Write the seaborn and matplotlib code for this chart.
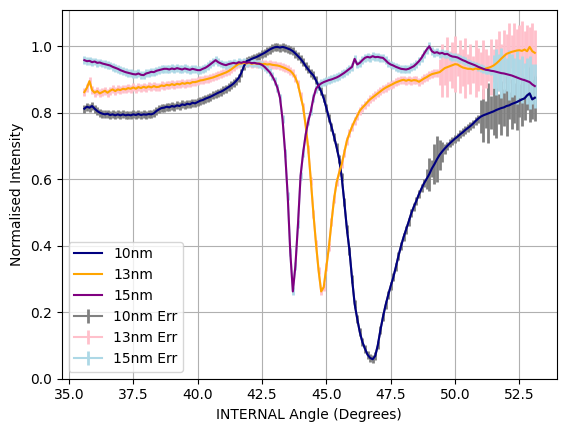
import numpy as np
import matplotlib
matplotlib.use("Agg")
import matplotlib.pyplot as plt
import seaborn as sns

# Angle grid (degrees), 0.1 deg sampling from 35.6 to 53.1
angle = np.round(np.linspace(35.6, 53.1, 176), 1)

r10 = [0.812, 0.818, 0.815, 0.820, 0.812, 0.805, 0.800, 0.797, 0.795, 0.797,
       0.793, 0.795, 0.792, 0.795, 0.792, 0.795, 0.792, 0.794, 0.792, 0.795,
       0.793, 0.796, 0.793, 0.795, 0.794, 0.796, 0.795, 0.798, 0.805, 0.810,
       0.814, 0.815, 0.818, 0.816, 0.820, 0.818, 0.822, 0.820, 0.825, 0.823,
       0.827, 0.825, 0.830, 0.828, 0.832, 0.836, 0.838, 0.842, 0.845, 0.848,
       0.852, 0.856, 0.860, 0.863, 0.867, 0.872, 0.877, 0.882, 0.888, 0.896,
       0.905, 0.920, 0.940, 0.955, 0.958, 0.962, 0.965, 0.968, 0.972, 0.976,
       0.980, 0.985, 0.990, 0.994, 0.997, 0.998, 0.996, 0.998, 0.996, 0.993,
       0.990, 0.985, 0.978, 0.970, 0.962, 0.952, 0.940, 0.930, 0.920, 0.912,
       0.897, 0.880, 0.864, 0.843, 0.815, 0.785, 0.758, 0.728, 0.696, 0.660,
       0.605, 0.530, 0.450, 0.385, 0.300, 0.225, 0.180, 0.140, 0.110, 0.090,
       0.072, 0.062, 0.058, 0.068, 0.100, 0.145, 0.185, 0.220, 0.250, 0.278,
       0.304, 0.335, 0.368, 0.398, 0.425, 0.448, 0.472, 0.497, 0.517, 0.535,
       0.555, 0.572, 0.588, 0.601, 0.615, 0.632, 0.645, 0.660, 0.673, 0.683,
       0.692, 0.700, 0.708, 0.715, 0.722, 0.728, 0.735, 0.741, 0.748, 0.754,
       0.760, 0.767, 0.775, 0.782, 0.788, 0.792, 0.795, 0.798, 0.801, 0.804,
       0.808, 0.811, 0.814, 0.816, 0.820, 0.822, 0.826, 0.829, 0.832, 0.836,
       0.840, 0.843, 0.852, 0.858, 0.840, 0.845]

r13 = [0.862, 0.875, 0.895, 0.868, 0.860, 0.865, 0.858, 0.862, 0.866, 0.860,
       0.866, 0.870, 0.865, 0.870, 0.868, 0.872, 0.870, 0.874, 0.872, 0.876,
       0.872, 0.877, 0.874, 0.878, 0.875, 0.879, 0.876, 0.880, 0.877, 0.878,
       0.882, 0.880, 0.884, 0.882, 0.886, 0.883, 0.887, 0.885, 0.889, 0.887,
       0.890, 0.888, 0.892, 0.892, 0.894, 0.897, 0.898, 0.900, 0.902, 0.904,
       0.906, 0.909, 0.912, 0.915, 0.918, 0.921, 0.925, 0.930, 0.936, 0.942,
       0.947, 0.948, 0.950, 0.948, 0.950, 0.947, 0.949, 0.947, 0.948, 0.946,
       0.947, 0.945, 0.946, 0.944, 0.943, 0.942, 0.940, 0.937, 0.934, 0.930,
       0.926, 0.918, 0.905, 0.885, 0.850, 0.817, 0.760, 0.690, 0.595, 0.495,
       0.405, 0.325, 0.262, 0.275, 0.335, 0.395, 0.470, 0.540, 0.590, 0.620,
       0.645, 0.680, 0.716, 0.738, 0.758, 0.775, 0.790, 0.806, 0.815, 0.823,
       0.832, 0.840, 0.846, 0.852, 0.858, 0.864, 0.870, 0.875, 0.879, 0.883,
       0.887, 0.891, 0.894, 0.897, 0.899, 0.896, 0.899, 0.896, 0.898, 0.897,
       0.893, 0.898, 0.903, 0.907, 0.912, 0.916, 0.918, 0.920, 0.922, 0.928,
       0.934, 0.937, 0.940, 0.943, 0.946, 0.945, 0.940, 0.936, 0.934, 0.932,
       0.932, 0.930, 0.933, 0.931, 0.932, 0.930, 0.933, 0.935, 0.938, 0.942,
       0.948, 0.955, 0.963, 0.970, 0.977, 0.980, 0.983, 0.985, 0.987, 0.988,
       0.986, 0.990, 0.985, 0.998, 0.985, 0.980]

r15 = [0.958, 0.955, 0.956, 0.952, 0.954, 0.950, 0.951, 0.948, 0.946, 0.944,
       0.942, 0.938, 0.935, 0.932, 0.928, 0.925, 0.922, 0.920, 0.918, 0.916,
       0.915, 0.918, 0.914, 0.913, 0.918, 0.920, 0.923, 0.922, 0.926, 0.928,
       0.930, 0.932, 0.932, 0.930, 0.933, 0.931, 0.934, 0.932, 0.930, 0.933,
       0.931, 0.929, 0.932, 0.930, 0.928, 0.928, 0.932, 0.935, 0.940, 0.946,
       0.952, 0.958, 0.952, 0.948, 0.945, 0.943, 0.946, 0.948, 0.950, 0.948,
       0.952, 0.950, 0.953, 0.950, 0.952, 0.949, 0.950, 0.948, 0.947, 0.944,
       0.938, 0.930, 0.922, 0.910, 0.895, 0.875, 0.845, 0.780, 0.680, 0.550,
       0.380, 0.262, 0.340, 0.465, 0.610, 0.680, 0.735, 0.775, 0.805, 0.845,
       0.872, 0.882, 0.888, 0.892, 0.895, 0.898, 0.900, 0.903, 0.906, 0.910,
       0.915, 0.920, 0.926, 0.932, 0.938, 0.962, 0.945, 0.950, 0.958, 0.965,
       0.968, 0.966, 0.970, 0.967, 0.968, 0.966, 0.965, 0.958, 0.950, 0.945,
       0.942, 0.938, 0.935, 0.932, 0.931, 0.930, 0.932, 0.936, 0.940, 0.947,
       0.955, 0.965, 0.978, 0.990, 1.000, 0.985, 0.980, 0.982, 0.978, 0.980,
       0.976, 0.977, 0.972, 0.969, 0.968, 0.966, 0.962, 0.958, 0.955, 0.951,
       0.948, 0.945, 0.942, 0.938, 0.935, 0.932, 0.929, 0.928, 0.926, 0.925,
       0.923, 0.921, 0.919, 0.918, 0.916, 0.914, 0.912, 0.909, 0.906, 0.903,
       0.900, 0.898, 0.895, 0.892, 0.885, 0.880]

# Error magnitudes (half-widths)
err10 = ([0.012] * 133
         + [0.03, 0.05, 0.025, 0.06, 0.07, 0.045, 0.03, 0.015]
         + [0.012] * 13
         + [0.05, 0.08, 0.04, 0.09, 0.05, 0.07, 0.085, 0.045, 0.08, 0.055, 0.09,
            0.04, 0.075, 0.06, 0.085, 0.05, 0.08, 0.065, 0.045, 0.085, 0.06, 0.07])
err13 = ([0.012] * 138
         + [0.04, 0.08, 0.05, 0.09, 0.045, 0.07, 0.085, 0.035, 0.08, 0.055,
            0.09, 0.045, 0.075, 0.04, 0.085, 0.065, 0.05, 0.09, 0.06, 0.04,
            0.085, 0.05, 0.075, 0.09, 0.045, 0.08, 0.06, 0.09, 0.05, 0.085,
            0.065, 0.075, 0.09, 0.055, 0.08, 0.06, 0.085, 0.07])
err15 = ([0.012] * 159
         + [0.05, 0.07, 0.055, 0.075, 0.06, 0.05, 0.075, 0.065, 0.055, 0.08,
            0.06, 0.07, 0.05, 0.07, 0.08, 0.06, 0.065])

assert len(r10) == len(r13) == len(r15) == len(err10) == len(err13) == len(err15) == len(angle)

labels = ["10nm", "13nm", "15nm"]
line_colors = ["navy", "orange", "purple"]
err_colors = ["gray", "pink", "lightblue"]

fig = plt.figure(figsize=(5.67, 4.32), dpi=100)
ax = fig.add_axes([61.7 / 567, 1 - 378.5 / 432, (556.7 - 61.7) / 567, (378.5 - 10) / 432])

series = [r10, r13, r15]
errs = [err10, err13, err15]

for y, e, c, lab in zip(series, errs, err_colors, labels):
    ax.errorbar(angle, y, yerr=e, color=c, label=lab + " Err", elinewidth=2.0, zorder=2)

for y, c, lab in zip(series, line_colors, labels):
    sns.lineplot(x=angle, y=y, color=c, label=lab, ax=ax, linewidth=1.5, zorder=3)

ax.set_xlim(34.72, 53.95)
ax.set_ylim(0, 1.109)
ax.grid(True)
ax.set_xlabel("INTERNAL Angle (Degrees)")
ax.set_ylabel("Normalised Intensity")
ax.legend(loc="lower left")

fig.savefig("out.png", dpi=100)
